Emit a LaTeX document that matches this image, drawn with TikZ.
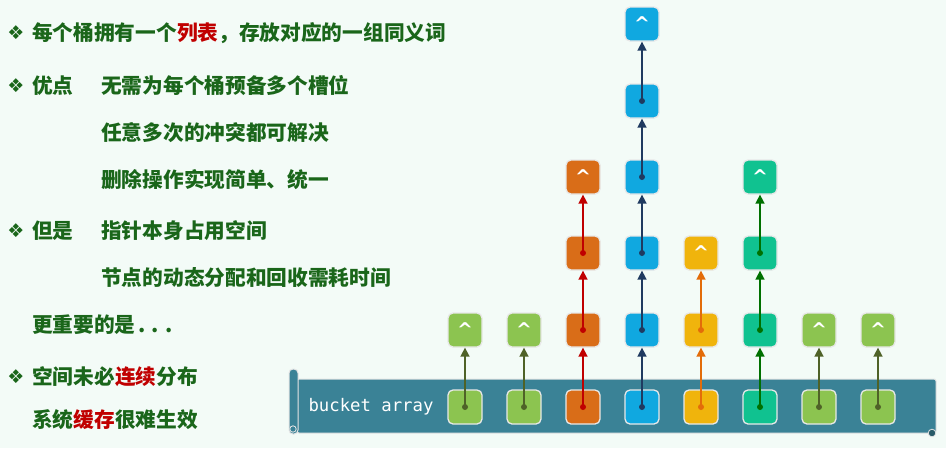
\documentclass[tikz,border=0pt]{standalone}
\usepackage{fontspec}
\newfontfamily\cjk{Noto Sans CJK SC}
\newfontfamily\dejavu{DejaVu Sans}
\newfontfamily\mono{DejaVu Sans Mono}
\usetikzlibrary{arrows.meta}
\definecolor{bg}{HTML}{F3FBF7}
\definecolor{txtg}{HTML}{1A661A}
\definecolor{hl}{HTML}{C00000}
\definecolor{banner}{HTML}{3A8296}
\definecolor{fgreen}{HTML}{8CC450}
\definecolor{forange}{HTML}{D96D18}
\definecolor{fblue}{HTML}{10A8E0}
\definecolor{fyellow}{HTML}{F0B40C}
\definecolor{fteal}{HTML}{10C290}
\definecolor{agreen}{HTML}{4F6228}
\definecolor{ared}{HTML}{C00000}
\definecolor{ablue}{HTML}{1F3A60}
\definecolor{aorange}{HTML}{E36C09}
\definecolor{ateal}{HTML}{007000}
\tikzset{
  txt/.style={anchor=west, inner sep=0pt, text=txtg, font=\cjk\bfseries\fontsize{20.7}{22}\selectfont},
  bul/.style={inner sep=0pt, text=txtg, font=\dejavu\fontsize{19}{20}\selectfont},
  cell/.style={rounded corners=5pt, minimum size=34pt, inner sep=0pt, draw=white!82!gray, line width=1.3pt},
  nul/.style={cell, font=\dejavu\bfseries\fontsize{19}{20}\selectfont, text=white},
  link/.style={line width=1.6pt, -{Triangle[length=9pt,width=9pt]}},
}
\begin{document}
\begin{tikzpicture}[x=1pt,y=-1pt]
\fill[bg] (0,0) rectangle (946,448);
\useasboundingbox (0,0) rectangle (946,448);
% text
\node[bul] (k1) at (16,33) {❖};
\node[txt] (t1) at (32,33) {每个桶拥有一个\textcolor{hl}{列表}，存放对应的一组同义词};
\node[bul] (k2) at (16,86) {❖};
\node[txt] (t2) at (32,86) {优点};
\node[txt] (t2b) at (101,86) {无需为每个桶预备多个槽位};
\node[txt] (t3) at (101,133) {任意多次的冲突都可解决};
\node[txt] (t4) at (101,180) {删除操作实现简单、统一};
\node[bul] (k5) at (16,231) {❖};
\node[txt] (t5) at (32,231) {但是};
\node[txt] (t5b) at (101,231) {指针本身占用空间};
\node[txt] (t6) at (101,278) {节点的动态分配和回收需耗时间};
\node[txt] (t7) at (32,325) {更重要的是\kern3pt.\kern6pt.\kern6pt.};
\node[bul] (k8) at (16,377) {❖};
\node[txt] (t8) at (32,377) {空间未必\textcolor{hl}{连续}分布};
\node[txt] (t9) at (32,420) {系统\textcolor{hl}{缓存}很难生效};
% banner
\draw[fill=banner, draw=white!80!gray, line width=1pt, rounded corners=2pt] (297,379) rectangle (936,433);
\draw[fill=banner, draw=white!80!gray, line width=1pt, rounded corners=4pt] (289,369) rectangle (298,434);
\draw[fill=banner, draw=white!80!gray, line width=0.8pt] (293,429) circle (3.2pt);
\draw[fill=banner!70!black, draw=white!80!gray, line width=0.8pt] (932,433) circle (3.8pt);
\node[inner sep=0pt, text=white, font=\mono\fontsize{17.3}{18}\selectfont] (ba) at (371,407) {bucket array};
% bucket cells
\foreach \i/\c in {0/fgreen,1/fgreen,2/forange,3/fblue,4/fyellow,5/fteal,6/fgreen,7/fgreen}{
  \node[cell, fill=\c] (b\i) at (465+59*\i,407) {};
}
% list nodes
\node[nul, fill=fgreen] (n01) at (465,330) {\textasciicircum};
\node[nul, fill=fgreen] (n11) at (524,330) {\textasciicircum};
\node[cell, fill=forange] (n21) at (583,330) {};
\node[cell, fill=forange] (n22) at (583,253) {};
\node[nul, fill=forange] (n23) at (583,177) {\textasciicircum};
\node[cell, fill=fblue] (n31) at (642,330) {};
\node[cell, fill=fblue] (n32) at (642,253) {};
\node[cell, fill=fblue] (n33) at (642,177) {};
\node[cell, fill=fblue] (n34) at (642,101) {};
\node[nul, fill=fblue] (n35) at (642,24) {\textasciicircum};
\node[cell, fill=fyellow] (n41) at (701,330) {};
\node[nul, fill=fyellow] (n42) at (701,253) {\textasciicircum};
\node[cell, fill=fteal] (n51) at (760,330) {};
\node[cell, fill=fteal] (n52) at (760,253) {};
\node[nul, fill=fteal] (n53) at (760,177) {\textasciicircum};
\node[nul, fill=fgreen] (n61) at (819,330) {\textasciicircum};
\node[nul, fill=fgreen] (n71) at (878,330) {\textasciicircum};
% links
\foreach \a/\b/\c in {b0/n01/agreen, b1/n11/agreen,
  b2/n21/ared, n21/n22/ared, n22/n23/ared,
  b3/n31/ablue, n31/n32/ablue, n32/n33/ablue, n33/n34/ablue, n34/n35/ablue,
  b4/n41/aorange, n41/n42/aorange,
  b5/n51/ateal, n51/n52/ateal, n52/n53/ateal,
  b6/n61/agreen, b7/n71/agreen}{
  \draw[link, \c] (\a.center) -- (\b.south);
  \fill[\c] (\a.center) circle (3pt);
}
\end{tikzpicture}
\end{document}
